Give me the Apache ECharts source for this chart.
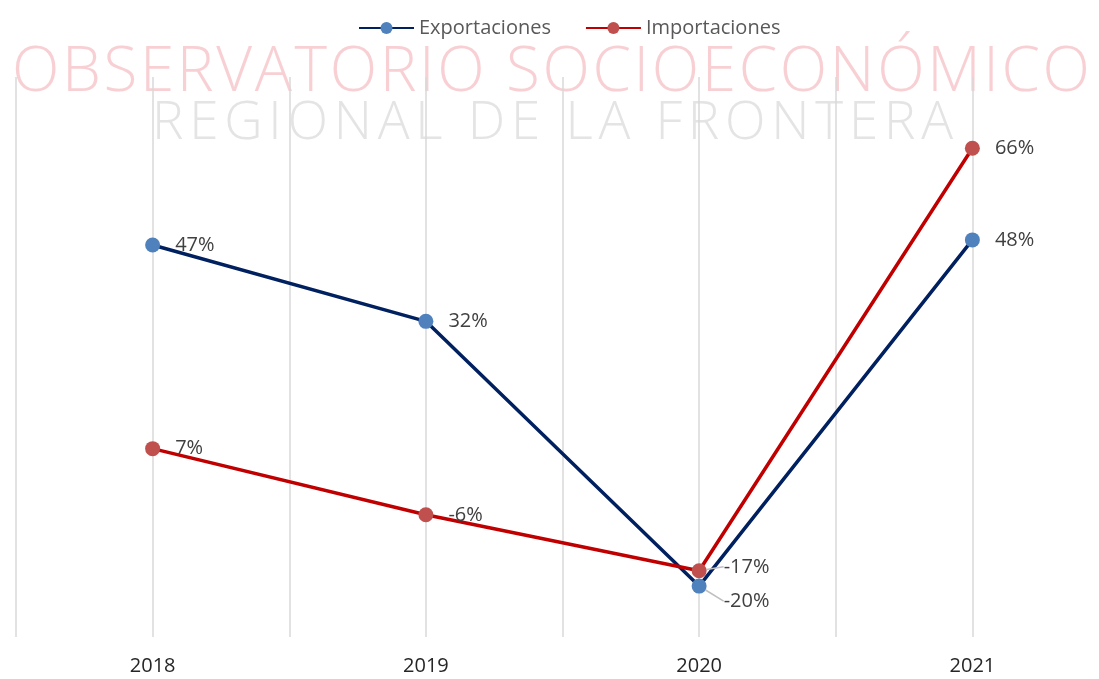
<!DOCTYPE html>
<html>
<head>
<meta charset="utf-8">
<script src="https://cdn.jsdelivr.net/npm/echarts@6/dist/echarts.min.js"></script>
<style>
  html, body { margin: 0; padding: 0; background: #fff; }
  #chart { width: 1099px; height: 679px; }
</style>
</head>
<body>
<div id="chart"></div>
<script>
var years = ['2018', '2019', '2020', '2021'];
var exportaciones = [47, 32, -20, 48];
var importaciones = [7, -6, -17, 66];
// half-category slots, only used to draw the vertical grid lines
var gridSlots = ['', '', '', '', '', '', '', ''];

var myChart = echarts.init(document.getElementById('chart'));
var font = '"Open Sans", sans-serif';

// watermark: letters spread out (letter-spacing) between two x positions
function spacedText(text, size, x0, x1, yMid, color) {
  var ctx = document.createElement('canvas').getContext('2d');
  ctx.font = '300 ' + size + 'px "Open Sans"';
  var chars = text.split('');
  var widths = chars.map(function (c) { return ctx.measureText(c).width; });
  var total = widths.reduce(function (a, b) { return a + b; }, 0);
  var gap = (x1 - x0 - total) / (chars.length - 1);
  var x = x0;
  var out = [];
  chars.forEach(function (c, i) {
    out.push({
      type: 'text',
      x: x,
      y: yMid,
      z: -10,
      silent: true,
      style: {
        text: c,
        align: 'left',
        verticalAlign: 'middle',
        fontSize: size,
        fontWeight: 300,
        fontFamily: font,
        fill: color
      }
    });
    x += widths[i] + gap;
  });
  return out;
}

// labels near the 2020 crossing were pushed off the points in the original
function moveLabel(params) {
  if (params.dataIndex !== 2) return {};
  return params.seriesIndex === 0 ? { dy: 15, dx: 2 } : { dy: -4, dx: 2 };
}
function withLeader(values) {
  return values.map(function (v, i) {
    return i === 2 ? { value: v, labelLine: { show: true } } : v;
  });
}

var label = {
  show: true,
  position: 'right',
  distance: 15,
  formatter: '{c}%',
  fontSize: 20,
  color: '#404040',
  fontFamily: font
};

var option = {
  backgroundColor: '#fff',
  textStyle: { fontFamily: font },
  legend: {
    top: 13,
    left: 353,
    itemWidth: 55,
    itemHeight: 15,
    itemGap: 34,
    textStyle: { color: '#595959', fontSize: 20, fontFamily: font },
    data: ['Exportaciones', 'Importaciones']
  },
  graphic: [].concat(
    spacedText('OBSERVATORIO SOCIOECONÓMICO', 62, 12, 1090, 73, '#F8D0D4'),
    spacedText('REGIONAL DE LA FRONTERA', 53, 152, 953, 124, '#E4E4E4')
  ),
  grid: {
    left: 16,
    width: 1093,
    top: 77,
    bottom: 42,
    outerBoundsMode: 'none'
  },
  xAxis: [
    {
      type: 'category',
      data: years,
      boundaryGap: true,
      axisLine: { show: false },
      axisTick: { show: false },
      splitLine: { show: false },
      axisLabel: { fontSize: 20, color: '#262626', margin: 19, fontFamily: font }
    },
    {
      type: 'category',
      data: gridSlots,
      boundaryGap: true,
      position: 'bottom',
      axisLine: { show: false },
      axisTick: { show: false },
      axisLabel: { show: false },
      splitLine: { show: true, lineStyle: { color: '#D9D9D9', width: 1.5 } }
    }
  ],
  yAxis: {
    type: 'value',
    min: -30,
    max: 80,
    show: false
  },
  series: [
    {
      name: 'Exportaciones',
      type: 'line',
      data: withLeader(exportaciones),
      symbol: 'circle',
      symbolSize: 15,
      lineStyle: { color: '#002060', width: 3.5 },
      itemStyle: { color: '#4F81BD' },
      label: label,
      labelLayout: moveLabel,
      labelLine: { show: false, lineStyle: { color: '#BFBFBF', width: 1.5 } },
      z: 3
    },
    {
      name: 'Importaciones',
      type: 'line',
      data: withLeader(importaciones),
      symbol: 'circle',
      symbolSize: 15,
      lineStyle: { color: '#C00000', width: 3.5 },
      itemStyle: { color: '#C0504D' },
      label: label,
      labelLayout: moveLabel,
      labelLine: { show: false, lineStyle: { color: '#BFBFBF', width: 1.5 } },
      z: 4
    }
  ]
};
option && myChart.setOption(option);
</script>
</body>
</html>
